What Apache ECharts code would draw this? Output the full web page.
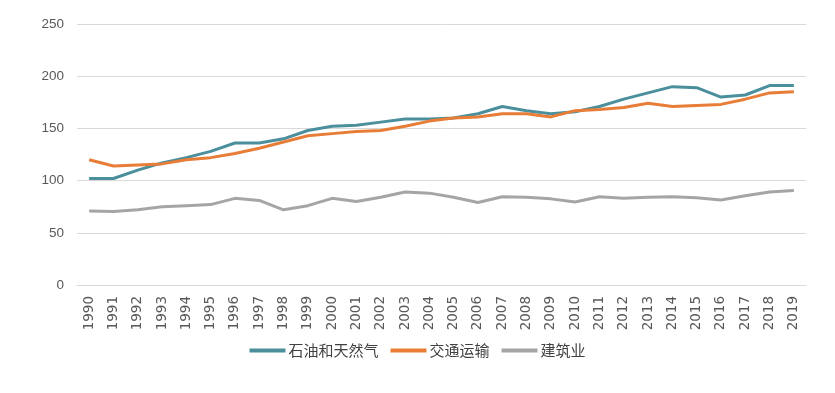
<!DOCTYPE html>
<html><head><meta charset="utf-8">
<script src="https://cdn.jsdelivr.net/npm/echarts@6/dist/echarts.min.js"></script>
<style>html,body{margin:0;padding:0;background:#fff}#c{width:835px;height:393px}</style>
</head><body><div id="c"></div>
<script>
const years = ['1990','1991','1992','1993','1994','1995','1996','1997','1998','1999','2000','2001','2002','2003','2004','2005','2006','2007','2008','2009','2010','2011','2012','2013','2014','2015','2016','2017','2018','2019'];
const oilGas = [102,102,110,117,122,128,136,136,140,148,152,153,156,159,159,160,164,171,167,164,166,171,178,184,190,189,180,182,191,191];
const transport = [120,114,115,116,120,122,126,131,137,143,145,147,148,152,157,160,161,164,164,161,167,168,170,174,171,172,173,178,184,185];
const construction = [71,70.5,72,75,76,77,83,81,72,76,83,80,84,89,88,84,79,84.5,84,82.5,79.5,84.5,83,84,84.5,83.5,81.5,85.5,89,90.5];
const seriesNames = ['石油和天然气','交通运输','建筑业'];
const colors = ['#4a8f9b','#e87d37','#a5a5a5'];
const yTicks = {min:0, max:250, interval:50};

const chart = echarts.init(document.getElementById('c'));
const font = 'Noto Sans CJK SC, Noto Sans, sans-serif';
chart.setOption({
  animation:false,
  color: colors,
  grid:{left:77,right:29,top:24,bottom:108},
  legend:{
    data: seriesNames, bottom:30, left:'center', itemWidth:36, itemHeight:4, itemGap:12,
    icon:'rect',
    textStyle:{fontSize:15,color:'#404040',fontFamily:font,padding:[0,0,0,-2]}
  },
  xAxis:{type:'category',data:years,boundaryGap:true,
    axisLine:{show:true,lineStyle:{color:'#d9d9d9'}},axisTick:{show:false},
    axisLabel:{rotate:90,interval:0,fontSize:13.5,color:'#595959',fontFamily:'DejaVu Sans, Liberation Sans',margin:11}},
  yAxis:{type:'value',min:yTicks.min,max:yTicks.max,interval:yTicks.interval,
    axisLine:{show:false},axisTick:{show:false},
    splitLine:{lineStyle:{color:'#d9d9d9',width:1}},
    axisLabel:{fontSize:13.5,color:'#595959',fontFamily:'Liberation Sans, Arial',margin:13}},
  series:[
    {name:seriesNames[0],type:'line',data:oilGas,symbol:'none',lineStyle:{width:3}},
    {name:seriesNames[1],type:'line',data:transport,symbol:'none',lineStyle:{width:3}},
    {name:seriesNames[2],type:'line',data:construction,symbol:'none',lineStyle:{width:3}}
  ]
});
</script></body></html>
